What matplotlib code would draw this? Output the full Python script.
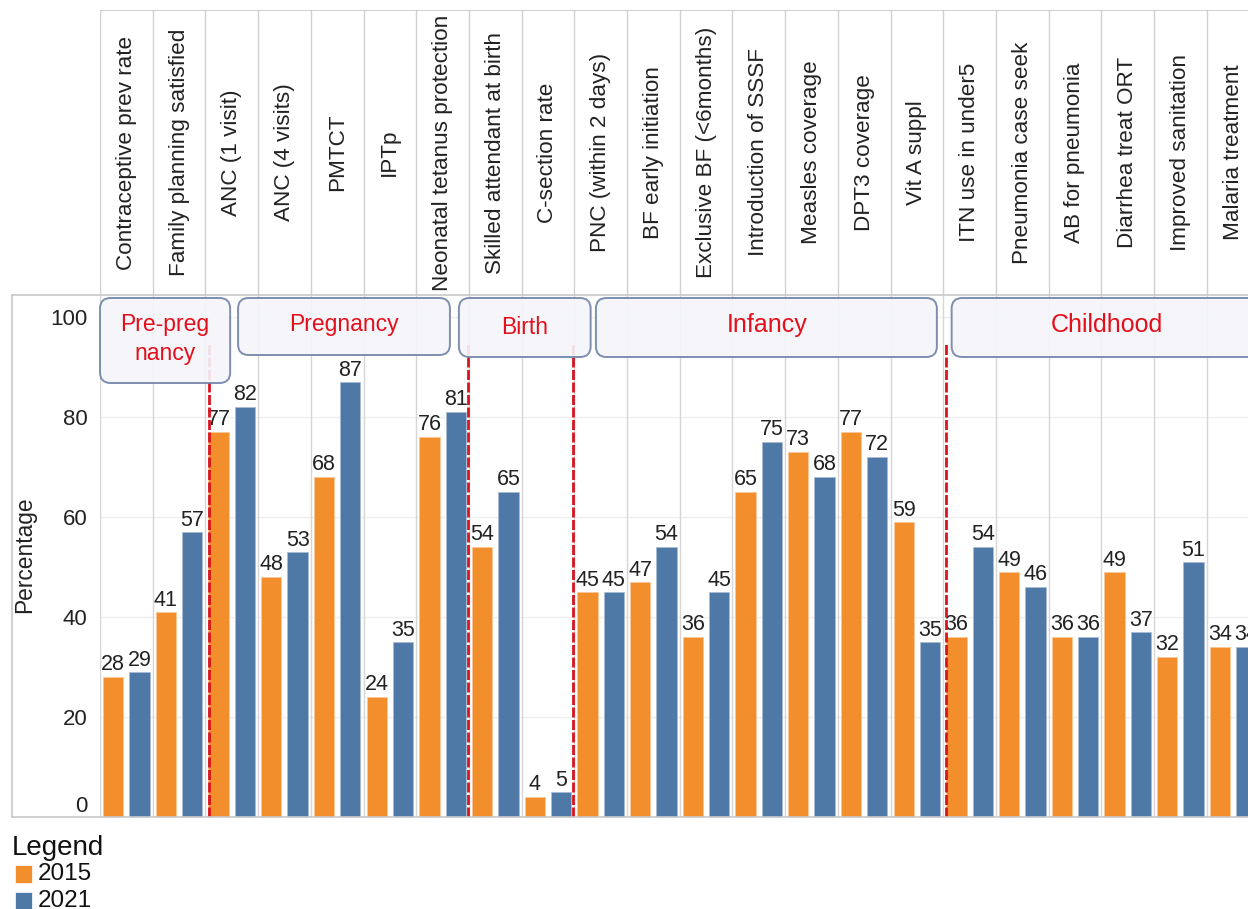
import numpy as np
import matplotlib
matplotlib.use("Agg")
import matplotlib.pyplot as plt
from matplotlib.patches import FancyBboxPatch, Rectangle
from matplotlib.lines import Line2D

plt.rcParams['font.family'] = ['Liberation Sans', 'DejaVu Sans']

# data
indicators = [
    "Contraceptive prev rate", "Family planning satisfied", "ANC (1 visit)",
    "ANC (4 visits)", "PMTCT", "IPTp", "Neonatal tetanus protection",
    "Skilled attendant at birth", "C-section rate", "PNC (within 2 days)",
    "BF early initiation", "Exclusive BF (<6months)", "Introduction of SSSF",
    "Measles coverage", "DPT3 coverage", "Vit A suppl", "ITN use in under5",
    "Pneumonia case seek", "AB for pneumonia", "Diarrhea treat ORT",
    "Improved sanitation", "Malaria treatment",
]
v2015 = [28, 41, 77, 48, 68, 24, 76, 54, 4, 45, 47, 36, 65, 73, 77, 59, 36, 49, 36, 49, 32, 34]
v2021 = [29, 57, 82, 53, 87, 35, 81, 65, 5, 45, 54, 45, 75, 68, 72, 35, 54, 46, 36, 37, 51, 34]
years = ["2015", "2021"]
groups = ["Pre-preg\nnancy", "Pregnancy", "Birth", "Infancy", "Childhood"]

# layout (data coords of the annotation boxes, separators)
boxes = [(-0.5, 1.97, 86.8, 103.8), (2.12, 6.14, 92.4, 103.8), (6.31, 8.81, 92.0, 103.8),
         (8.91, 15.38, 92.0, 103.8), (15.66, 22.5, 92.0, 103.8)]
box_text = [(0.73, 95.6, 16.5), (4.13, 98.4, 16.5), (7.56, 98.0, 16.5), (12.15, 98.4, 18), (18.6, 98.4, 18)]
seps = [1.57, 6.49, 8.47, 15.55]

ORANGE = "#f28e2b"
BLUE = "#4e79a7"
W, H = 1248, 909
COLW = 52.7


def fx(px):
    return px / W


def fy(py):
    return 1 - py / H


fig = plt.figure(figsize=(W / 100, H / 100), dpi=100)
n = len(indicators)
x = np.arange(n)

ax = fig.add_axes([fx(100), fy(817), n * COLW / W, (817 - 295) / H])
hax = fig.add_axes([fx(100), fy(295), n * COLW / W, (295 - 10) / H])

# header with rotated indicator names
hax.set_xlim(-0.5, n - 0.5)
hax.set_ylim(0, 1)
hax.axis("off")
for b in np.arange(-0.5, n, 1):
    hax.axvline(b, color="#d0d0d0", lw=1)
hax.axhline(1, color="#c8c8c8", lw=1.2)
for i, name in enumerate(indicators):
    hax.text(i, 0.5, name, rotation=90, ha="center", va="center", fontsize=16.2, color="#222222")

# main bars
ax.set_xlim(-0.5, n - 0.5)
ax.set_ylim(0, (817 - 295) / 5)
for s in ax.spines.values():
    s.set_visible(False)
ax.set_xticks([])
ax.set_yticks([0, 20, 40, 60, 80, 100])
ax.tick_params(axis="y", length=0, pad=9, labelsize=16, labelcolor="#222222")
ax.get_yticklabels()[0].set_va("bottom")
for g in [20, 40, 60, 80, 100]:
    ax.axhline(g, color="#efefef", lw=1, zorder=0)
for b in np.arange(-0.5, n, 1):
    ax.axvline(b, color="#d6d6d6", lw=1, zorder=0)

bw = 0.385
ax.bar(x - 0.25, v2015, width=bw, color=ORANGE, edgecolor="#f8c896", lw=0.6, zorder=2)
ax.bar(x + 0.25, v2021, width=bw, color=BLUE, edgecolor="#a9bcd3", lw=0.6, zorder=2)
for i in range(n):
    ax.text(x[i] - 0.25, v2015[i] + 0.3, str(v2015[i]), ha="center", va="bottom",
            fontsize=15.5, color="#222222", zorder=3)
    ax.text(x[i] + 0.25, v2021[i] + 0.3, str(v2021[i]), ha="center", va="bottom",
            fontsize=15.5, color="#222222", zorder=3)

for s in seps:
    ax.plot([s, s], [0, 95], color="#d9141e", lw=2, linestyle=(0, (3.6, 0.9)), zorder=3)

asp = COLW / 5
for (x0, x1, y0, y1), lab, (tx, ty, fs) in zip(boxes, groups, box_text):
    p = FancyBboxPatch((x0, y0), x1 - x0, y1 - y0,
                       boxstyle="round,pad=0,rounding_size=0.2", mutation_aspect=asp,
                       facecolor="#f5f6fa", edgecolor="#7083a8", lw=1.4, alpha=0.9,
                       zorder=4, clip_on=False)
    ax.add_patch(p)
    ax.text(tx, ty, lab, ha="center", va="center", fontsize=fs, color="#e3101c",
            zorder=5, linespacing=1.3)

# outer frame round the plot area
fc = "#c8c8c8"
fig.add_artist(Line2D([fx(12), 1], [fy(295), fy(295)], transform=fig.transFigure, color=fc, lw=1.2))
fig.add_artist(Line2D([fx(12), fx(12)], [fy(295), fy(817)], transform=fig.transFigure, color=fc, lw=1.2))
fig.add_artist(Line2D([fx(12), 1], [fy(817), fy(817)], transform=fig.transFigure, color=fc, lw=1.2))

fig.text(fx(25), fy(555), "Percentage", rotation=90, ha="center", va="center", fontsize=16.4, color="#222222")

# legend
fig.text(fx(12), fy(848), "Legend", ha="left", va="center", fontsize=20, color="#111111")
for k, (yr, col) in enumerate(zip(years, [ORANGE, BLUE])):
    top = 865 + k * 27
    fig.add_artist(Rectangle((fx(15), fy(top + 18)), 17 / W, 18 / H, transform=fig.transFigure,
                             facecolor=col, edgecolor="white", lw=0.5))
    fig.text(fx(38), fy(top + 9), yr, ha="left", va="center", fontsize=17.5, color="#111111")

fig.savefig("out.png", dpi=100)
